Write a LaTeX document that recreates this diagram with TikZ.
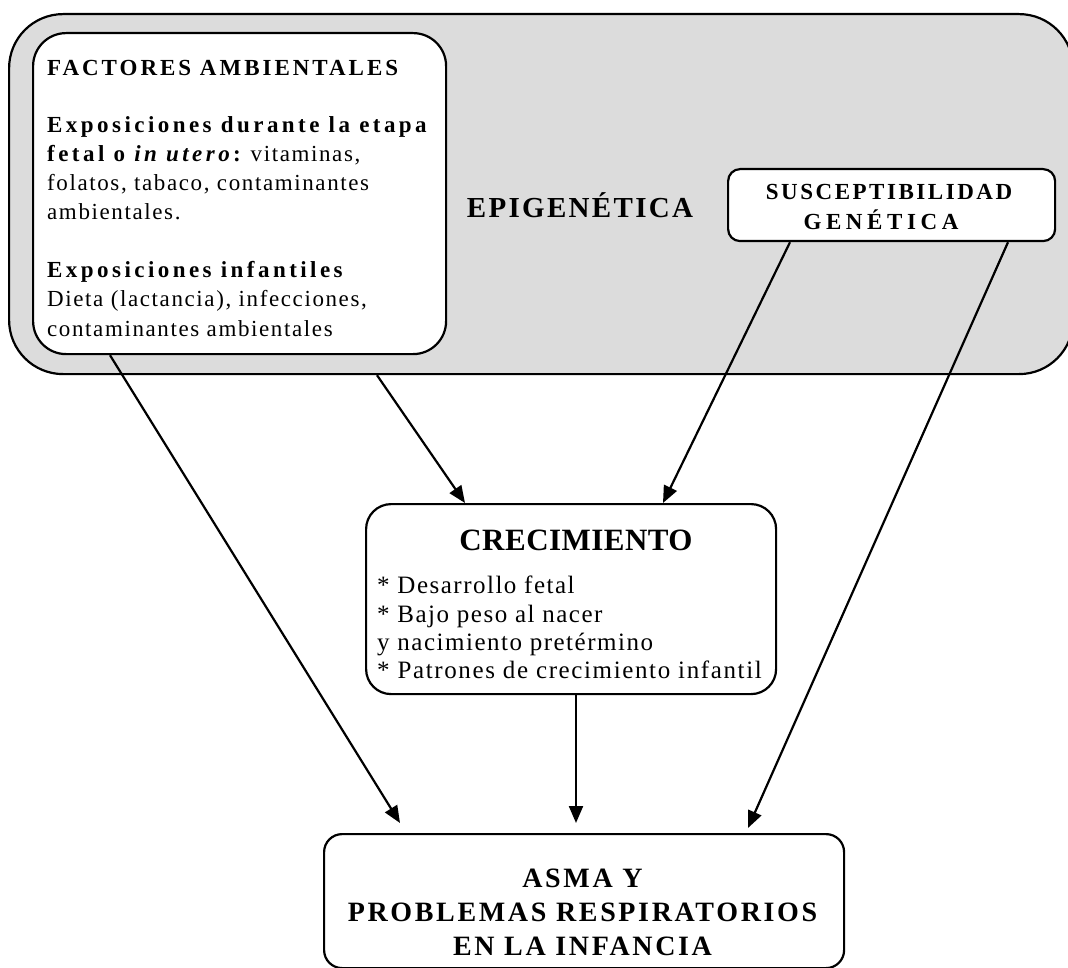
\documentclass[tikz,border=0pt]{standalone}
\usepackage{fontspec}
\setmainfont{Liberation Serif}
\usetikzlibrary{arrows.meta}
\definecolor{epigray}{HTML}{DCDCDC}
\newcommand{\fsz}[1]{\fontsize{#1pt}{#1pt}\selectfont}
\newcommand{\trk}[1]{\addfontfeatures{LetterSpace=#1}}
\begin{document}
\begin{tikzpicture}[x=1pt,y=-1pt,
  panel/.style={draw, line width=2.2pt, fill=white, inner sep=0pt, anchor=north west},
  link/.style={line width=2.2pt, -{Triangle[length=17pt,width=14pt]}},
  txt/.style={inner sep=0pt, anchor=base west},
  ctxt/.style={inner sep=0pt, anchor=base},
  headtxt/.style={txt, font=\fsz{23}\bfseries\trk{15}},
  bodytxt/.style={txt, font=\fsz{23}\trk{7}},
  ]
\useasboundingbox (0,0) rectangle (1068,968);

% grey epigenetics field
\node[panel, fill=epigray, rounded corners=54pt, minimum width=1064pt, minimum height=360pt] (epi) at (8,13) {};

% environmental factors
\node[panel, rounded corners=33pt, minimum width=413pt, minimum height=321pt] (fact) at (32,32) {};
\node[headtxt, font=\fsz{23}\bfseries\trk{13}] (f1) at (47,76) {FACTORES AMBIENTALES};
\node[headtxt] (f2) at (47,133) {Exposiciones durante la etapa};
\node[bodytxt] (f3) at (47,162) {{\bfseries\trk{15}fetal o \textit{in utero}:} vitaminas,};
\node[bodytxt] (f4) at (47,191) {folatos, tabaco, contaminantes};
\node[bodytxt] (f5) at (47,220) {ambientales.};
\node[headtxt] (f6) at (47,278) {Exposiciones infantiles};
\node[bodytxt] (f7) at (47,307) {Dieta (lactancia), infecciones,};
\node[bodytxt] (f8) at (47,336) {contaminantes ambientales};

\node[ctxt, font=\fsz{29}\bfseries\trk{8}] (epilabel) at (580,218) {EPIGENÉTICA};

% genetic susceptibility
\node[panel, rounded corners=12pt, minimum width=327pt, minimum height=72pt] (susc) at (727,168) {};
\node[ctxt, font=\fsz{23}\bfseries\trk{11}] (s1) at (889,200) {SUSCEPTIBILIDAD};
\node[ctxt, font=\fsz{23}\bfseries\trk{20}] (s2) at (881,230) {GENÉTICA};

% growth
\node[panel, rounded corners=25pt, minimum width=410pt, minimum height=190pt] (crec) at (365,503) {};
\node[ctxt, font=\fsz{31}\bfseries\trk{1.5}] (c0) at (576,550) {CRECIMIENTO};
\node[txt, font=\fsz{25}\trk{6}] (c1) at (377,593) {* Desarrollo fetal};
\node[txt, font=\fsz{25}\trk{6}] (c2) at (377,622) {* Bajo peso al nacer};
\node[txt, font=\fsz{25}\trk{6}] (c3) at (377,650) {y nacimiento pretérmino};
\node[txt, font=\fsz{25}\trk{6.5}] (c4) at (377,678) {* Patrones de crecimiento infantil};

% outcome
\node[panel, rounded corners=18pt, minimum width=520pt, minimum height=134pt] (asma) at (323,833) {};
\node[ctxt, font=\fsz{28}\bfseries\trk{9.5}] (a1) at (582.5,887) {ASMA Y};
\node[ctxt, font=\fsz{28}\bfseries\trk{9.5}] (a2) at (582.5,921) {PROBLEMAS RESPIRATORIOS};
\node[ctxt, font=\fsz{28}\bfseries\trk{9.5}] (a3) at (582.5,955) {EN LA INFANCIA};

% connectors
\draw[link] ([xshift=78pt]fact.south west) -- ([xshift=77pt,yshift=10pt]asma.north west);
\draw[link] ([xshift=369pt]epi.south west) -- ([xshift=100pt]crec.north west);
\draw[link] ([xshift=63pt]susc.south west) -- ([xshift=298pt]crec.north west);
\draw[link] ([xshift=281pt]susc.south west) -- ([xshift=425pt,yshift=5pt]asma.north west);
\draw[link] ([xshift=211pt]crec.south west) -- ([xshift=253pt,yshift=10pt]asma.north west);
\end{tikzpicture}
\end{document}
